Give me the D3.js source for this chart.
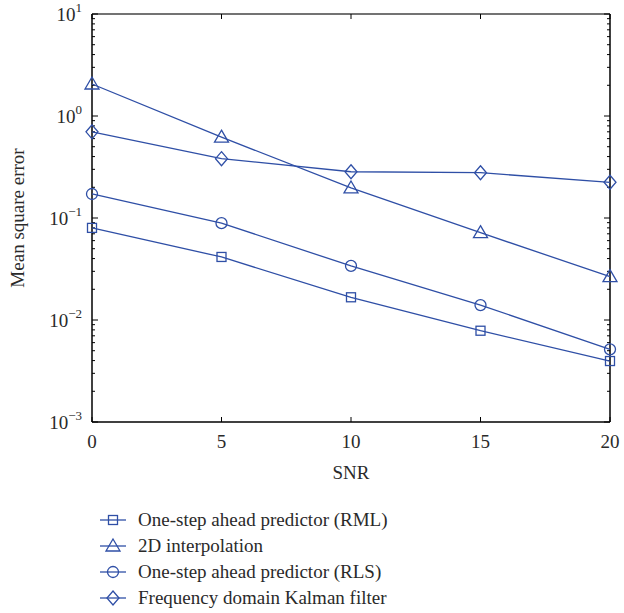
<!DOCTYPE html>
<html>
<head>
<meta charset="utf-8">
<script src="https://cdn.jsdelivr.net/npm/d3@7"></script>
<style>
  body { margin: 0; background: #fff; }
  text { font-family: "Liberation Serif", "DejaVu Serif", serif; fill: #2a2a2a; }
</style>
</head>
<body>
<div id="chart"></div>
<script>
// data
const snr = [0, 5, 10, 15, 20];
const rml = [0.080, 0.0415, 0.0167, 0.00785, 0.00396];
const interp2d = [2.06, 0.62, 0.197, 0.0718, 0.0266];
const rls = [0.172, 0.089, 0.0339, 0.0140, 0.00516];
const kalman = [0.70, 0.382, 0.284, 0.278, 0.224];

const seriesNames = [
    "One-step ahead predictor (RML)",
    "2D interpolation",
    "One-step ahead predictor (RLS)",
    "Frequency domain Kalman filter"
];
const seriesValues = [rml, interp2d, rls, kalman];
const seriesMarkers = ["square", "triangle", "circle", "diamond"];

const xTicks = [0, 5, 10, 15, 20];
const yExponents = [-3, -2, -1, 0, 1];

const width = 624, height = 613;
const margin = { left: 92, right: 14, top: 14, bottom: 191 };
const blue = "#2f4fa6";
const fs = 19;

const svg = d3.select("#chart").append("svg")
    .attr("width", width)
    .attr("height", height);

const x = d3.scaleLinear().domain([0, 20]).range([margin.left, width - margin.right]);
const y = d3.scaleLog().domain([1e-3, 10]).range([height - margin.bottom, margin.top]);

const x0 = x.range()[0], x1 = x.range()[1];
const y0 = y.range()[0], y1 = y.range()[1];

// frame
svg.append("line").attr("x1", x0).attr("x2", x1).attr("y1", y1).attr("y2", y1)
    .attr("stroke", "#444").attr("stroke-width", 1.5);
svg.append("line").attr("x1", x0).attr("x2", x1).attr("y1", y0).attr("y2", y0)
    .attr("stroke", "#000").attr("stroke-width", 1.5);
svg.append("line").attr("x1", x0).attr("x2", x0).attr("y1", y0).attr("y2", y1)
    .attr("stroke", "#000").attr("stroke-width", 1.5);
svg.append("line").attr("x1", x1).attr("x2", x1).attr("y1", y0).attr("y2", y1)
    .attr("stroke", "#000").attr("stroke-width", 1.5);

// y ticks (major + minor), inward on both sides
const ticks = svg.append("g").attr("stroke", "#000").attr("stroke-width", 1);
const minorVals = [];
for (let e = -3; e < 1; e++) {
    for (let m = 2; m <= 9; m++) minorVals.push(m * Math.pow(10, e));
}
minorVals.forEach(v => {
    ticks.append("line").attr("x1", x0).attr("x2", x0 + 3).attr("y1", y(v)).attr("y2", y(v));
    ticks.append("line").attr("x1", x1).attr("x2", x1 - 3).attr("y1", y(v)).attr("y2", y(v));
});
yExponents.forEach(e => {
    const v = Math.pow(10, e);
    ticks.append("line").attr("x1", x0).attr("x2", x0 + 6).attr("y1", y(v)).attr("y2", y(v));
    ticks.append("line").attr("x1", x1).attr("x2", x1 - 6).attr("y1", y(v)).attr("y2", y(v));
});
xTicks.forEach(t => {
    ticks.append("line").attr("x1", x(t)).attr("x2", x(t)).attr("y1", y0).attr("y2", y0 - 5);
    ticks.append("line").attr("x1", x(t)).attr("x2", x(t)).attr("y1", y1).attr("y2", y1 + 5);
});

// y tick labels
yExponents.forEach(e => {
    const t = svg.append("text")
        .attr("x", x0 - 10)
        .attr("y", y(Math.pow(10, e)) + 7)
        .attr("text-anchor", "end")
        .attr("font-size", fs);
    t.append("tspan").text("10");
    t.append("tspan").attr("dy", -9).attr("font-size", 13)
        .text(e < 0 ? "\u2212" + (-e) : String(e));
});

// x tick labels
svg.selectAll(".xlab").data(xTicks).join("text")
    .attr("x", d => x(d))
    .attr("y", y0 + 26)
    .attr("text-anchor", "middle")
    .attr("font-size", fs)
    .text(d => d);

// axis titles
svg.append("text")
    .attr("x", (x0 + x1) / 2)
    .attr("y", 479)
    .attr("text-anchor", "middle")
    .attr("font-size", fs)
    .text("SNR");
svg.append("text")
    .attr("transform", `translate(24,${(y0 + y1) / 2}) rotate(-90)`)
    .attr("text-anchor", "middle")
    .attr("font-size", fs)
    .text("Mean square error");

// markers
function drawMarker(g, type, cx, cy) {
    if (type === "square") {
        g.append("rect").attr("x", cx - 4.5).attr("y", cy - 4.5).attr("width", 9).attr("height", 9);
    } else if (type === "triangle") {
        g.append("path").attr("d", `M${cx},${cy - 7}L${cx + 7},${cy + 5}L${cx - 7},${cy + 5}Z`);
    } else if (type === "circle") {
        g.append("circle").attr("cx", cx).attr("cy", cy).attr("r", 5.5);
    } else {
        g.append("path").attr("d", `M${cx},${cy - 7}L${cx + 6},${cy}L${cx},${cy + 7}L${cx - 6},${cy}Z`);
    }
}

const line = d3.line().x((d, i) => x(snr[i])).y(d => y(d));

seriesValues.forEach((vals, k) => {
    svg.append("path")
        .attr("d", line(vals))
        .attr("fill", "none")
        .attr("stroke", blue)
        .attr("stroke-width", 1.3);
    const g = svg.append("g").attr("fill", "none").attr("stroke", blue).attr("stroke-width", 1.3);
    vals.forEach((v, i) => drawMarker(g, seriesMarkers[k], x(snr[i]), y(v)));
});

// legend
const legend = svg.append("g");
seriesNames.forEach((name, k) => {
    const ly = 520 + k * 26;
    legend.append("line").attr("x1", 100).attr("x2", 126).attr("y1", ly).attr("y2", ly)
        .attr("stroke", blue).attr("stroke-width", 1.3);
    const g = legend.append("g").attr("fill", "none").attr("stroke", blue).attr("stroke-width", 1.3);
    drawMarker(g, seriesMarkers[k], 113, ly);
    legend.append("text")
        .attr("x", 138)
        .attr("y", ly + 6)
        .attr("font-size", fs)
        .text(name);
});
</script>
</body>
</html>
